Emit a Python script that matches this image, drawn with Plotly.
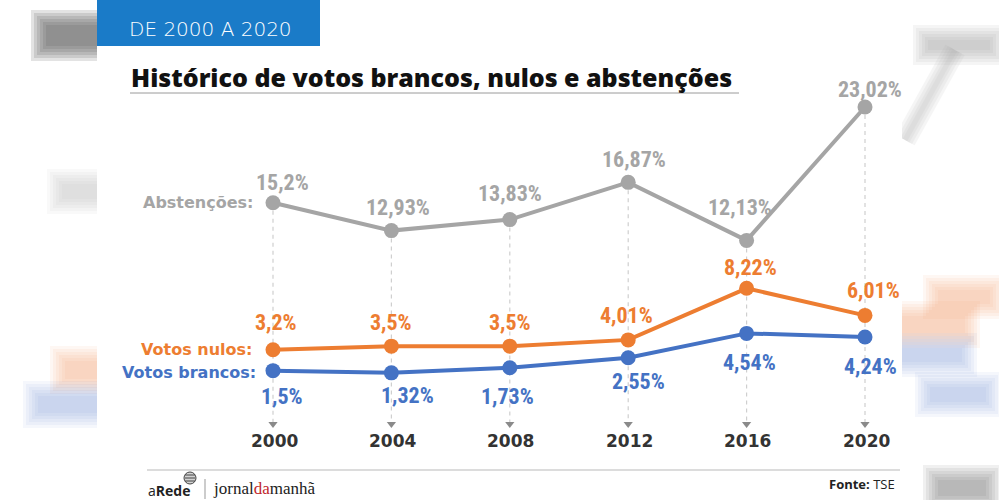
import plotly.graph_objects as go

# ---------------- data ----------------
years = [2000, 2004, 2008, 2012, 2016, 2020]
abstencoes = [15.2, 12.93, 13.83, 16.87, 12.13, 23.02]
nulos = [3.2, 3.5, 3.5, 4.01, 8.22, 6.01]
brancos = [1.5, 1.32, 1.73, 2.55, 4.54, 4.24]
abst_labels = ["15,2%", "12,93%", "13,83%", "16,87%", "12,13%", "23,02%"]
nulos_labels = ["3,2%", "3,5%", "3,5%", "4,01%", "8,22%", "6,01%"]
brancos_labels = ["1,5%", "1,32%", "1,73%", "2,55%", "4,54%", "4,24%"]
year_labels = ["2000", "2004", "2008", "2012", "2016", "2020"]
series_names = ["Abstenções:", "Votos nulos:", "Votos brancos:"]

# ---------------- style ----------------
W, H = 999, 500
GRAY = "#a5a5a5"
ORANGE = "#ed7d31"
BLUE = "#4472c4"
HEADER = "#1a7bc8"
COND = "Roboto Condensed, Open Sans Condensed, sans-serif"
SANS = "Open Sans, Inter, sans-serif"
WIDE = "DejaVu Sans, Verdana, sans-serif"

# axis ranges (pixel mapping: 2000 -> x=273, 4 yrs = 118.4px; y=0 -> 389px, 12.25 px/unit)
px_per_year = 118.4 / 4
x0 = 2000 - 273 / px_per_year
x1 = x0 + W / px_per_year
ppu = 12.25
y1 = 389 / ppu
y0 = -(H - 389) / ppu


def px(x):
    return x / W


def py(y):
    return 1 - y / H


def yval(ypix):
    return y1 - ypix / H * (y1 - y0)


tri_y = yval(424)

fig = go.Figure()

# dashed guides
for i, yr in enumerate(years):
    fig.add_trace(go.Scatter(x=[yr, yr], y=[abstencoes[i], tri_y], mode="lines",
                             line=dict(color="#cfcfcf", width=1.2, dash="4px,4px"),
                             hoverinfo="skip", showlegend=False))
fig.add_trace(go.Scatter(x=years, y=[tri_y] * len(years), mode="markers",
                         marker=dict(symbol="triangle-down", size=8, color="#8a8a8a"),
                         hoverinfo="skip", showlegend=False))

for vals, col in [(abstencoes, GRAY), (nulos, ORANGE), (brancos, BLUE)]:
    fig.add_trace(go.Scatter(x=years, y=vals, mode="lines+markers",
                             line=dict(color=col, width=4),
                             marker=dict(size=15, color=col),
                             showlegend=False))

ann = []
# data labels
abst_dx = [9, 7, 0, 6, -7, 5]
abst_dy = [20, 23, 26, 23, 33, 18]
nul_dx = [3, 0, 0, -2, 4, 8]
nul_dy = [27, 24, 24, 24, 21, 25]
bra_dx = [9, 16, -2, 10, 3, 5]
bra_dy = [-26, -23, -29, -24, -29, -29]
for vals, labs, dxs, dys, col in [(abstencoes, abst_labels, abst_dx, abst_dy, GRAY),
                                  (nulos, nulos_labels, nul_dx, nul_dy, ORANGE),
                                  (brancos, brancos_labels, bra_dx, bra_dy, BLUE)]:
    for yr, v, t, dx, dy in zip(years, vals, labs, dxs, dys):
        ann.append(dict(x=yr, y=v, text=t, showarrow=False, xshift=dx, yshift=dy,
                        font=dict(family=COND, size=22, color=col, weight="bold"),
                        xanchor="center", yanchor="middle"))

# year labels
for yr, t in zip(years, year_labels):
    ann.append(dict(x=yr, y=py(441), yref="paper", text=t, showarrow=False, xshift=1,
                    font=dict(family=WIDE, size=17, color="#333333", weight="bold"),
                    xanchor="center", yanchor="middle"))

# series names
for name, col, xr, yp in [(series_names[0], GRAY, 256, 202),
                          (series_names[1], ORANGE, 254, 349),
                          (series_names[2], BLUE, 258, 372)]:
    ann.append(dict(x=px(xr), y=py(yp), xref="paper", yref="paper", text=name, showarrow=False,
                    font=dict(family=WIDE, size=16, color=col, weight="bold"),
                    xanchor="right", yanchor="middle"))

# header & title
ann.append(dict(x=px(127), y=py(29), xref="paper", yref="paper", text="DE 2000 A 2020",
                showarrow=False, xanchor="left", yanchor="middle",
                font=dict(family=WIDE, size=20, color="white", weight=300)))
ann.append(dict(x=px(129), y=py(77), xref="paper", yref="paper",
                text="Histórico de votos brancos, nulos e abstenções",
                showarrow=False, xanchor="left", yanchor="middle",
                font=dict(family=SANS, size=25, color="#111111", weight=800)))

# footer
ann.append(dict(x=px(146), y=py(490), xref="paper", yref="paper",
                text="a<b>Rede</b>", showarrow=False, xanchor="left", yanchor="middle",
                font=dict(family=SANS, size=14, color="#222222")))
ann.append(dict(x=px(211), y=py(488), xref="paper", yref="paper",
                text="jornal<span style='color:#c1272d'>da</span>manhã", showarrow=False,
                xanchor="left", yanchor="middle",
                font=dict(family="Liberation Serif, DejaVu Serif, serif", size=17, color="#222222")))
ann.append(dict(x=px(897), y=py(484), xref="paper", yref="paper",
                text="<b>Fonte:</b> TSE", showarrow=False, xanchor="right", yanchor="middle",
                font=dict(family=SANS, size=13, color="#222222")))

shapes = []


def blob(xa, ya, xb, yb, rgb, alpha):
    # stacked soft rectangles to fake a blur
    n = 6
    for k in range(n):
        g = (n - 1 - k) * 3
        a = alpha / n * 1.3
        shapes.append(dict(type="rect", xref="paper", yref="paper",
                           x0=px(xa - g), x1=px(xb + g), y0=py(yb + g), y1=py(ya - g),
                           fillcolor="rgba(%d,%d,%d,%.3f)" % (rgb + (a,)), line=dict(width=0),
                           layer="below"))


def streak(xa, ya, xb, yb, rgb, alpha):
    for w in [22, 16, 10, 5]:
        shapes.append(dict(type="line", xref="paper", yref="paper",
                           x0=px(xa), x1=px(xb), y0=py(ya), y1=py(yb),
                           line=dict(color="rgba(%d,%d,%d,%.3f)" % (rgb + (alpha / 4,)), width=w),
                           layer="below"))


# left side (blurred background)
blob(46, 25, 110, 46, (95, 95, 95), 0.8)
blob(62, 184, 110, 199, (175, 175, 175), 0.35)
blob(65, 361, 110, 379, (240, 150, 90), 0.35)
blob(38, 396, 110, 413, (100, 140, 205), 0.3)
# right side
blob(928, 40, 990, 50, (150, 150, 150), 0.45)
streak(955, 50, 905, 140, (170, 170, 170), 0.45)
blob(938, 290, 990, 304, (240, 150, 90), 0.35)
blob(895, 316, 965, 333, (240, 150, 90), 0.35)
blob(895, 348, 962, 362, (100, 140, 205), 0.3)
blob(930, 387, 986, 402, (100, 140, 205), 0.3)
blob(938, 480, 986, 496, (120, 120, 120), 0.5)

# white panel covering blobs in the middle
shapes.append(dict(type="rect", xref="paper", yref="paper", x0=px(97), x1=px(902),
                   y0=0, y1=1, fillcolor="white", line=dict(width=0), layer="below"))
# header box
shapes.append(dict(type="rect", xref="paper", yref="paper", x0=px(97), x1=px(320),
                   y0=py(46), y1=py(0), fillcolor=HEADER, line=dict(width=0), layer="below"))
# title underline
shapes.append(dict(type="line", xref="paper", yref="paper", x0=px(130), x1=px(739),
                   y0=py(93), y1=py(93), line=dict(color="#9a9a9a", width=1)))
# footer line
shapes.append(dict(type="line", xref="paper", yref="paper", x0=px(147), x1=px(900),
                   y0=py(470), y1=py(470), line=dict(color="#dcdcdc", width=2)))
# separator between logos
shapes.append(dict(type="line", xref="paper", yref="paper", x0=px(205), x1=px(205),
                   y0=py(479), y1=py(499), line=dict(color="#999999", width=1)))
# small striped globe icon for aRede
shapes.append(dict(type="circle", xref="paper", yref="paper", x0=px(184), x1=px(196),
                   y0=py(484), y1=py(472), line=dict(color="#444444", width=1),
                   fillcolor="rgba(80,80,80,0.25)"))
for yy in [475, 478, 481]:
    shapes.append(dict(type="line", xref="paper", yref="paper", x0=px(185), x1=px(195),
                       y0=py(yy), y1=py(yy), line=dict(color="#444444", width=1)))

fig.update_layout(
    width=W, height=H, autosize=False,
    margin=dict(l=0, r=0, t=0, b=0),
    paper_bgcolor="white", plot_bgcolor="rgba(0,0,0,0)",
    xaxis=dict(range=[x0, x1], visible=False, fixedrange=True),
    yaxis=dict(range=[y0, y1], visible=False, fixedrange=True),
    annotations=ann, shapes=shapes,
)

fig.write_html("out.html", config={"displayModeBar": False},
               post_script="document.body.style.margin='0';")
